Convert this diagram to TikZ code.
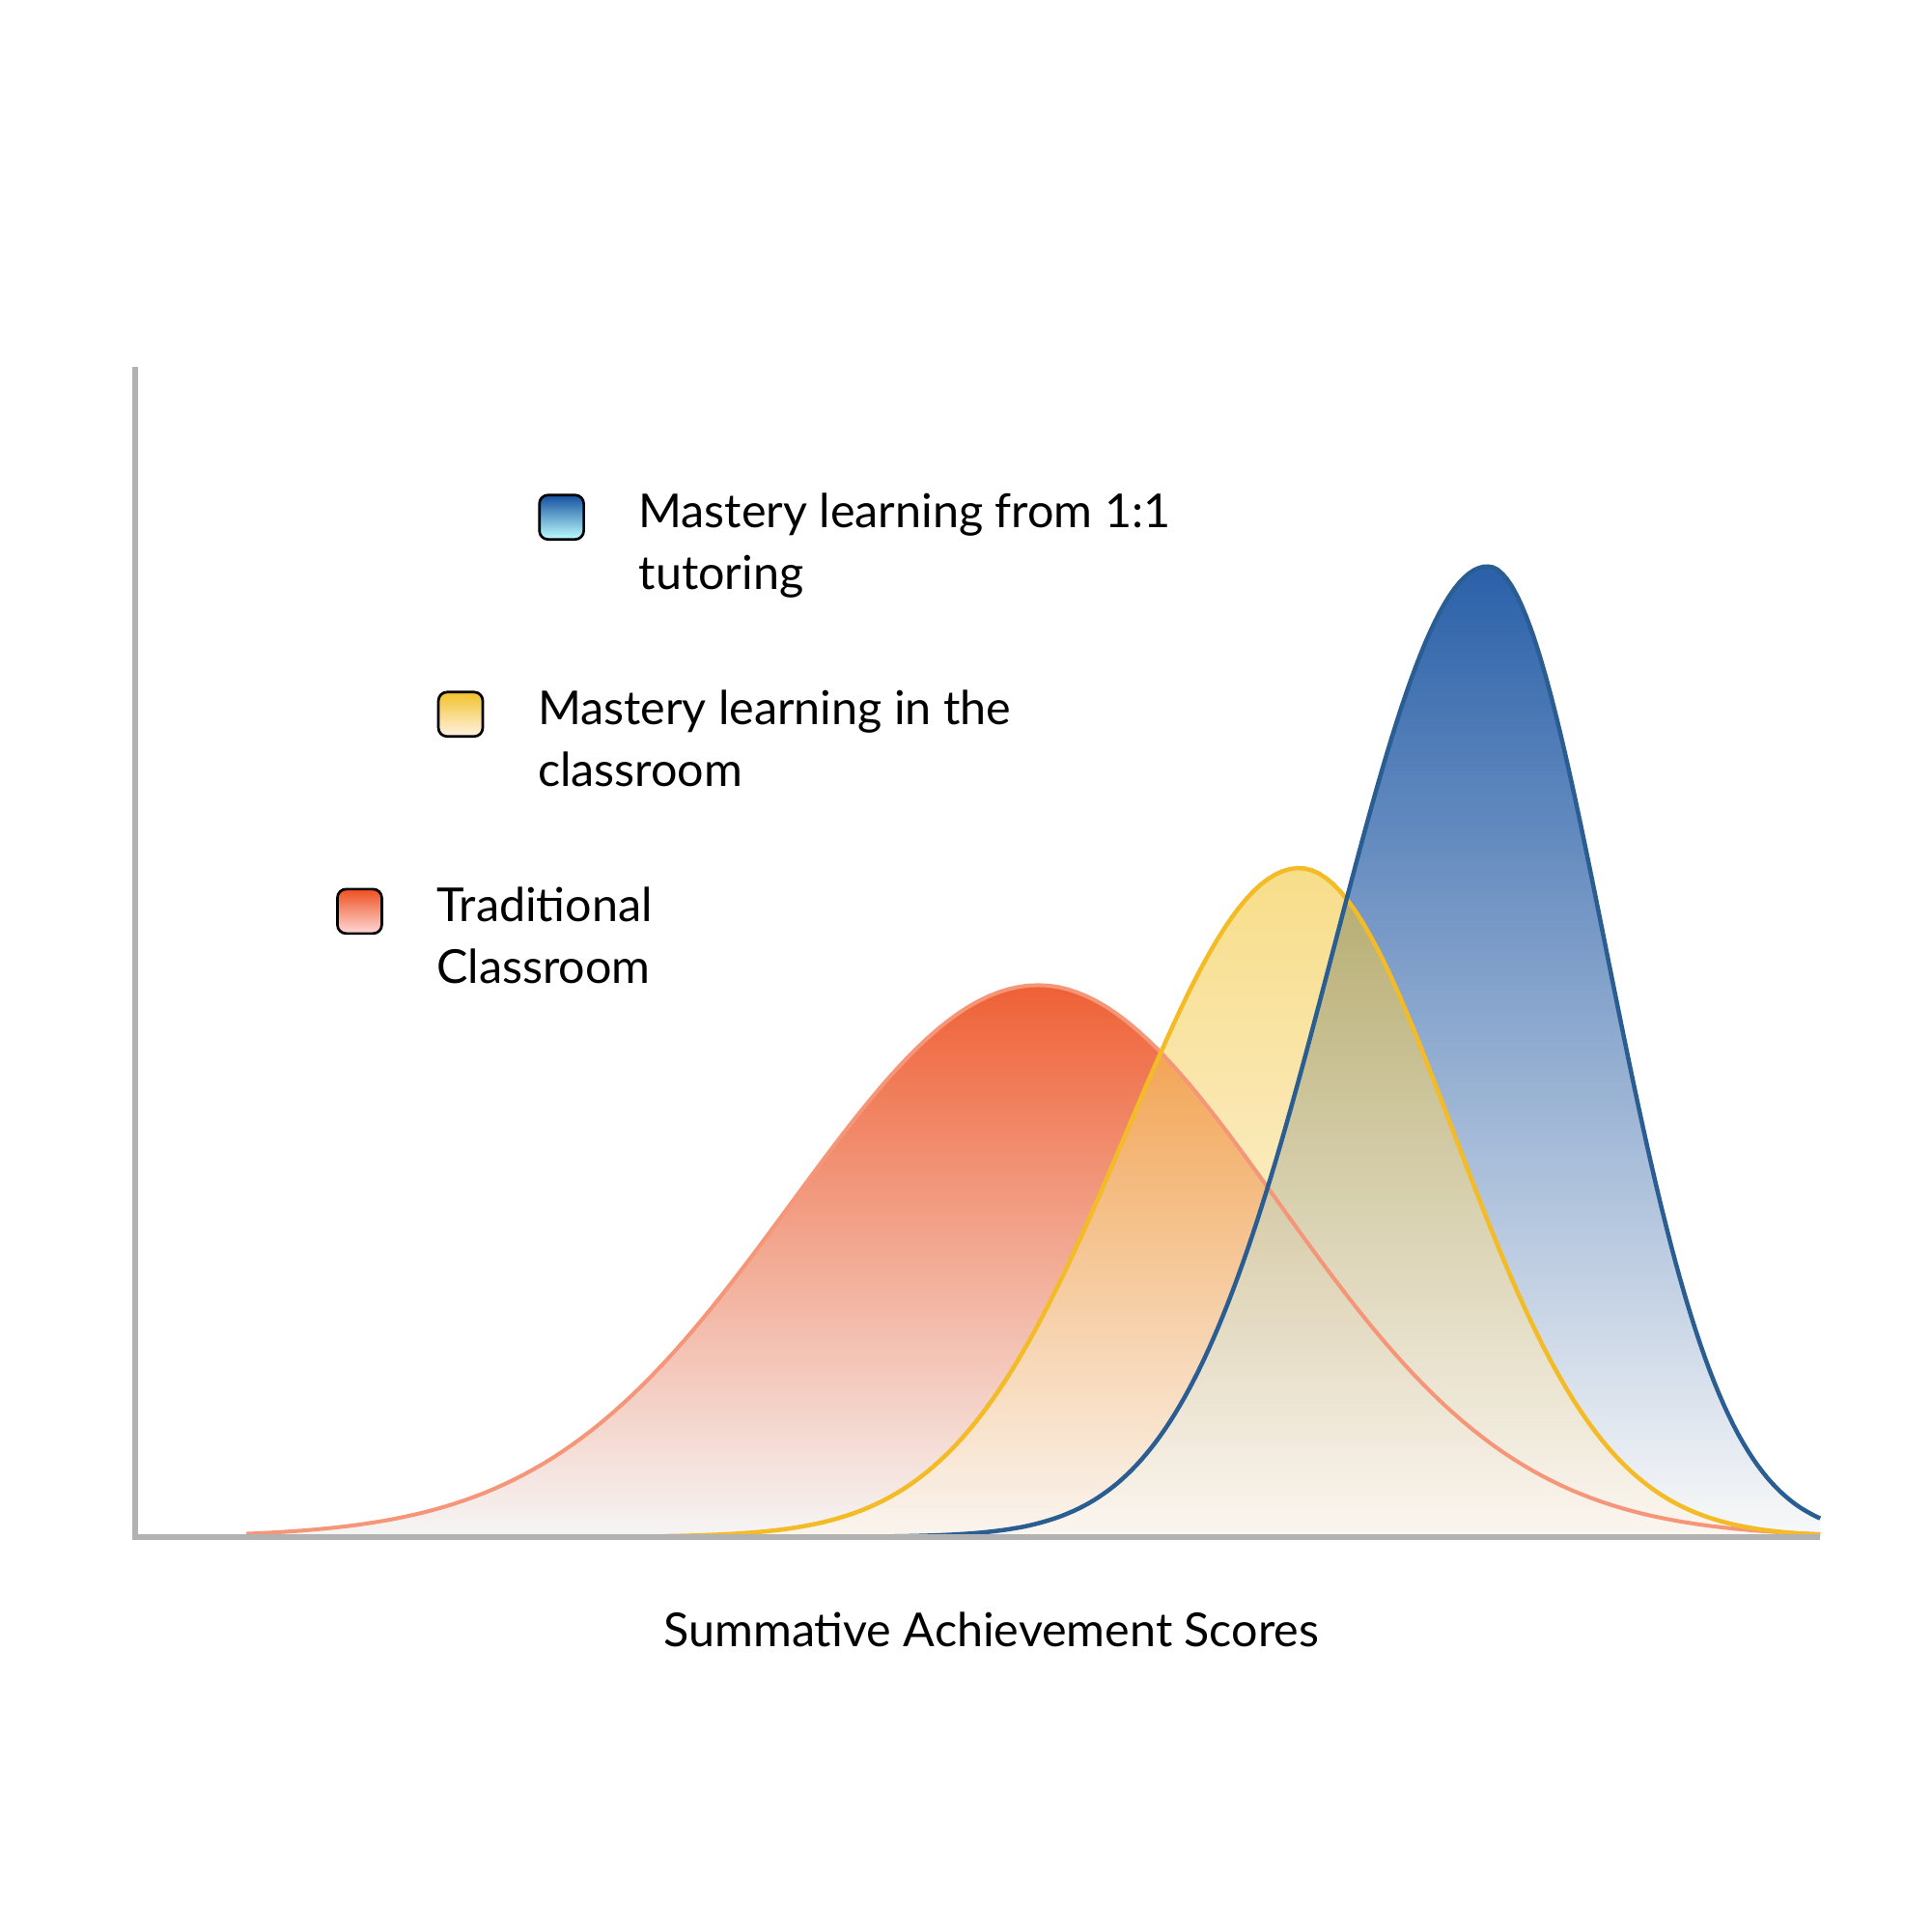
\documentclass[tikz,border=0pt]{standalone}
\usepackage{fontspec}
\setmainfont{Lato}
\definecolor{rtop}{HTML}{EE5020}
\definecolor{ytop}{HTML}{F2C22A}
\definecolor{btop}{HTML}{1450A0}
\definecolor{bmid}{HTML}{3A9CC8}
\definecolor{bline}{HTML}{2A5E92}
\begin{document}
\begin{tikzpicture}[x=0.01cm,y=0.01cm,
  lbl/.style={anchor=north west,align=left,font=\fontsize{10.8}{14.2}\selectfont,inner sep=0pt},
  keybox/.style={draw=black,line width=0.6pt,rounded corners=2pt,minimum size=0.36cm,inner sep=0pt},
  axisline/.style={draw=gray!60,line width=1.3pt}]
\useasboundingbox (0,0) rectangle (1568,1568);
\fill[white] (0,0) rectangle (1568,1568);
\def\base{320}
\def\redc{plot[domain=200:1478,samples=160] (\x,{\base+448*exp(-((\x-843)/(\x<843?200:195))^2/2)})}
\def\yelc{plot[domain=540:1478,samples=160] (\x,{\base+543*exp(-((\x-1055)/(\x<1055?140:125))^2/2)})}
\def\bluc{plot[domain=700:1478,samples=200] (\x,{\base+788*exp(-((\x-1208)/(\x<1208?125:96))^2/2)})}
% red
\shade[top color=rtop, bottom color=gray!8, fill opacity=0.9]
 \redc -- (1478,\base) -- (200,\base) -- cycle;
% blue
\shade[top color=btop, middle color=bmid, bottom color=gray!5, fill opacity=0.9]
 \bluc -- (1478,\base) -- (700,\base) -- cycle;
% yellow
\shade[top color=ytop, bottom color=orange!8, fill opacity=0.55]
 \yelc -- (1478,\base) -- (540,\base) -- cycle;
\draw[rtop!60, line width=0.9pt] \redc;
\draw[ytop!90!orange, line width=1pt] \yelc;
\draw[bline, line width=1pt] \bluc;
% axes
\coordinate (top) at (110,1270);
\coordinate (orig) at (110,\base);
\coordinate (right) at (1478,\base);
\draw[axisline] (top) -- (orig) -- (right);
% legend
\shade[top color=btop, bottom color=cyan!25, rounded corners=2pt] (438,1130) rectangle (474,1166);
\node[keybox] (kb) at (456,1148) {};
\node[lbl] (tb) at (518,1168) {Mastery learning from 1:1\\tutoring};
\shade[top color=ytop, bottom color=orange!10, rounded corners=2pt] (356,970) rectangle (392,1006);
\node[keybox] (ky) at (374,988) {};
\node[lbl] (ty) at (436,1008) {Mastery learning in the\\classroom};
\shade[top color=rtop, bottom color=red!15, rounded corners=2pt] (274,810) rectangle (310,846);
\node[keybox] (kr) at (292,828) {};
\node[lbl] (tr) at (354,848) {Traditional\\Classroom};
\node[font=\fontsize{10.8}{14}\selectfont] (xl) at (805,245) {Summative Achievement Scores};
\end{tikzpicture}
\end{document}
